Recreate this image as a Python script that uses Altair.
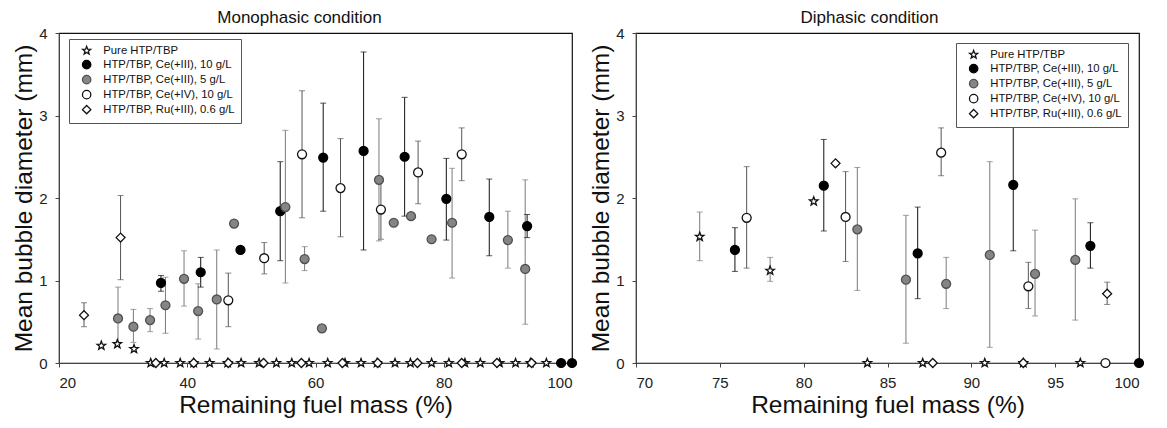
import altair as alt
import pandas as pd

SERIES = [
    "Pure HTP/TBP",
    "HTP/TBP, Ce(+III), 10 g/L",
    "HTP/TBP, Ce(+III), 5 g/L",
    "HTP/TBP, Ce(+IV), 10 g/L",
    "HTP/TBP, Ru(+III), 0.6 g/L",
]

# ---------------- Monophasic condition ----------------
mono_pure_x = [26.6, 29.1, 31.7, 34.3, 36.4, 38.9, 41.0, 43.5, 46.3, 48.4, 51.2, 53.9, 56.3,
               59.0, 61.9, 64.6, 67.1, 69.6, 72.4, 74.8, 78.1, 80.8, 83.3, 85.7, 88.7, 91.2,
               93.5, 96.0]
mono_pure_y = [0.21, 0.23, 0.17] + [0.0] * 25
mono_pure_lo = [None] * 28
mono_pure_hi = [None] * 28

mono_ce3_10_x = [35.9, 42.1, 48.3, 54.5, 61.2, 67.5, 73.9, 80.4, 87.1, 93.0, 98.3, 100.0]
mono_ce3_10_y = [0.97, 1.10, 1.37, 1.84, 2.49, 2.57, 2.50, 1.99, 1.77, 1.66, 0.0, 0.0]
mono_ce3_10_lo = [0.87, 0.92, None, 1.24, 1.84, 1.37, 1.78, 1.49, 1.30, 1.52, None, None]
mono_ce3_10_hi = [1.06, 1.28, None, 2.44, 3.15, 3.77, 3.22, 2.48, 2.23, 1.80, None, None]

mono_ce3_5_x = [29.2, 31.6, 34.2, 36.6, 39.5, 41.7, 44.6, 47.3, 55.3, 58.3, 61.0, 69.9, 72.2,
                74.9, 78.1, 81.3, 90.0, 92.7]
mono_ce3_5_y = [0.54, 0.44, 0.52, 0.70, 1.02, 0.63, 0.77, 1.69, 1.89, 1.26, 0.42, 2.22, 1.70,
                1.78, 1.50, 1.70, 1.49, 1.14]
mono_ce3_5_lo = [0.25, 0.25, 0.38, 0.36, 0.69, 0.29, 0.17, None, 0.97, 1.12, None, 1.48, None,
                 None, None, 1.03, 1.15, 0.47]
mono_ce3_5_hi = [0.92, 0.65, 0.66, 1.04, 1.36, 0.96, 1.37, None, 2.82, 1.41, None, 2.96, None,
                 None, None, 2.36, 1.84, 2.22]

mono_ce4_x = [46.4, 52.0, 57.9, 63.9, 70.2, 76.0, 82.8]
mono_ce4_y = [0.76, 1.27, 2.53, 2.12, 1.86, 2.31, 2.53]
mono_ce4_lo = [0.44, 1.08, 1.76, 1.53, 1.50, 1.93, 2.21]
mono_ce4_hi = [1.09, 1.46, 3.30, 2.72, 2.20, 2.69, 2.85]

mono_ru_x = [23.9, 29.6, 35.1, 41.0, 46.4, 51.9, 57.8, 64.2, 69.7, 75.9, 82.8, 88.3, 93.7]
mono_ru_y = [0.58, 1.52] + [0.0] * 11
mono_ru_lo = [0.44, 1.01] + [None] * 11
mono_ru_hi = [0.73, 2.03] + [None] * 11

# ---------------- Diphasic condition ----------------
di_pure_x = [73.8, 78.0, 80.6, 83.8, 87.1, 90.8, 93.1, 96.5]
di_pure_y = [1.53, 1.12, 1.96, 0.0, 0.0, 0.0, 0.0, 0.0]
di_pure_lo = [1.24, 0.99, None, None, None, None, None, None]
di_pure_hi = [1.83, 1.28, None, None, None, None, None, None]

di_ce3_10_x = [75.9, 81.2, 86.8, 92.5, 97.1, 100.0]
di_ce3_10_y = [1.37, 2.15, 1.33, 2.16, 1.42, 0.0]
di_ce3_10_lo = [1.11, 1.60, 0.78, 1.36, 1.15, None]
di_ce3_10_hi = [1.64, 2.71, 1.89, 3.20, 1.70, None]

di_ce3_5_x = [83.2, 86.1, 88.5, 91.1, 93.8, 96.2]
di_ce3_5_y = [1.62, 1.01, 0.96, 1.31, 1.08, 1.25]
di_ce3_5_lo = [0.88, 0.24, 0.66, 0.19, 0.57, 0.52]
di_ce3_5_hi = [2.37, 1.79, 1.28, 2.44, 1.61, 1.99]

di_ce4_x = [76.6, 82.5, 88.2, 93.4, 98.0]
di_ce4_y = [1.76, 1.77, 2.55, 0.93, 0.0]
di_ce4_lo = [1.15, 1.23, 2.27, 0.66, None]
di_ce4_hi = [2.38, 2.32, 2.85, 1.22, None]

di_ru_x = [81.9, 98.1, 87.7, 93.1]
di_ru_y = [2.42, 0.84, 0.0, 0.0]
di_ru_lo = [None, 0.71, None, None]
di_ru_hi = [None, 0.98, None, None]

X_TICKS_MONO = [20, 40, 60, 80, 100]
X_TICKS_DI = [70, 75, 80, 85, 90, 95, 100]
Y_TICKS = [0, 1, 2, 3, 4]


def frame(groups):
    rows = []
    for s, xs, ys, los, his in groups:
        for x, y, lo, hi in zip(xs, ys, los, his):
            rows.append({"series": s, "x": x, "y": y, "lo": lo, "hi": hi})
    return pd.DataFrame(rows)


mono_df = frame([
    (SERIES[0], mono_pure_x, mono_pure_y, mono_pure_lo, mono_pure_hi),
    (SERIES[1], mono_ce3_10_x, mono_ce3_10_y, mono_ce3_10_lo, mono_ce3_10_hi),
    (SERIES[2], mono_ce3_5_x, mono_ce3_5_y, mono_ce3_5_lo, mono_ce3_5_hi),
    (SERIES[3], mono_ce4_x, mono_ce4_y, mono_ce4_lo, mono_ce4_hi),
    (SERIES[4], mono_ru_x, mono_ru_y, mono_ru_lo, mono_ru_hi),
])
di_df = frame([
    (SERIES[0], di_pure_x, di_pure_y, di_pure_lo, di_pure_hi),
    (SERIES[1], di_ce3_10_x, di_ce3_10_y, di_ce3_10_lo, di_ce3_10_hi),
    (SERIES[2], di_ce3_5_x, di_ce3_5_y, di_ce3_5_lo, di_ce3_5_hi),
    (SERIES[3], di_ce4_x, di_ce4_y, di_ce4_lo, di_ce4_hi),
    (SERIES[4], di_ru_x, di_ru_y, di_ru_lo, di_ru_hi),
])

STAR = ("M0,-1L0.247,-0.34L0.951,-0.309L0.399,0.13L0.588,0.809L0,0.42"
        "L-0.588,0.809L-0.399,0.13L-0.951,-0.309L-0.247,-0.34Z")
FONT = "Liberation Sans"

shape_scale = alt.Scale(domain=SERIES, range=[STAR, "circle", "circle", "circle", "diamond"])
fill_scale = alt.Scale(domain=SERIES, range=["#ffffff", "#000000", "#858585", "#ffffff", "#ffffff"])
stroke_scale = alt.Scale(domain=SERIES, range=["#111111", "#000000", "#505050", "#111111", "#111111"])
bar_scale = alt.Scale(domain=SERIES, range=["#7a7a7a", "#111111", "#7a7a7a", "#555555", "#555555"])


def panel(df, title, xdom, xticks, width, lx, ly, dx):
    x_enc = alt.X("x:Q", scale=alt.Scale(domain=xdom, nice=False, zero=False),
                  axis=alt.Axis(values=xticks, title="Remaining fuel mass (%)", format="d"))
    y_enc = alt.Y("y:Q", scale=alt.Scale(domain=[0, 4], nice=False),
                  axis=alt.Axis(values=Y_TICKS, title="Mean bubble diameter (mm)", format="d"))
    base = alt.Chart(df)
    bars_df = base.transform_filter("isValid(datum.lo)")
    col = alt.Color("series:N", scale=bar_scale, legend=None)
    rules = bars_df.mark_rule(strokeWidth=1).encode(
        x=x_enc, y=alt.Y("lo:Q"), y2="hi:Q", color=col)
    cap_lo = bars_df.mark_tick(orient="horizontal", size=6, thickness=1).encode(
        x="x:Q", y="lo:Q", color=col)
    cap_hi = bars_df.mark_tick(orient="horizontal", size=6, thickness=1).encode(
        x="x:Q", y="hi:Q", color=col)
    legend = alt.Legend(
        title=None, orient="none", legendX=lx, legendY=ly,
        fillColor="#ffffff", strokeColor="#555555", padding=6,
        labelFont=FONT, labelFontSize=11.3, labelColor="#111111",
        symbolSize=70, symbolStrokeWidth=1.3, rowPadding=0, labelOffset=11,
        symbolOffset=6, labelLimit=300,
    )
    pts = base.mark_point(opacity=1, strokeWidth=1.3, size=80, clip=False).encode(
        x=x_enc, y=y_enc,
        shape=alt.Shape("series:N", scale=shape_scale, legend=legend),
        fill=alt.Fill("series:N", scale=fill_scale, legend=legend),
        stroke=alt.Stroke("series:N", scale=stroke_scale, legend=legend),
    )
    return alt.layer(rules, cap_lo, cap_hi, pts).resolve_scale(color="independent").properties(
        width=width, height=330,
        title=alt.TitleParams(title, font=FONT, fontSize=17, fontWeight="normal",
                              anchor="middle", dx=dx, dy=2, offset=1, color="#111111"),
    )


left = panel(mono_df, "Monophasic condition", [20, 100], X_TICKS_MONO, 513, 10, 6, -16)
right = panel(di_df, "Diphasic condition", [70, 100], X_TICKS_DI, 503, 320, 10, -18)

chart = alt.hconcat(left, right, spacing=8).resolve_scale(
    x="independent", y="independent", shape="independent", fill="independent",
    stroke="independent",
).resolve_legend(shape="independent", fill="independent", stroke="independent").properties(
    padding={"left": 3, "top": 0, "right": 0, "bottom": 0}
).configure_view(stroke="#111111", strokeWidth=1.2).configure_axis(
    grid=False, labelFont=FONT, titleFont=FONT, labelFontSize=15, titleFontSize=24.5,
    titleFontWeight="normal", tickSize=4,
    domainColor="#444444", tickColor="#444444", labelColor="#222222", titleColor="#111111",
).configure_axisX(titlePadding=3, labelPadding=8).configure_axisY(titlePadding=2, labelPadding=8)

chart.save("out.html", embed_options={"renderer": "svg", "actions": False})
